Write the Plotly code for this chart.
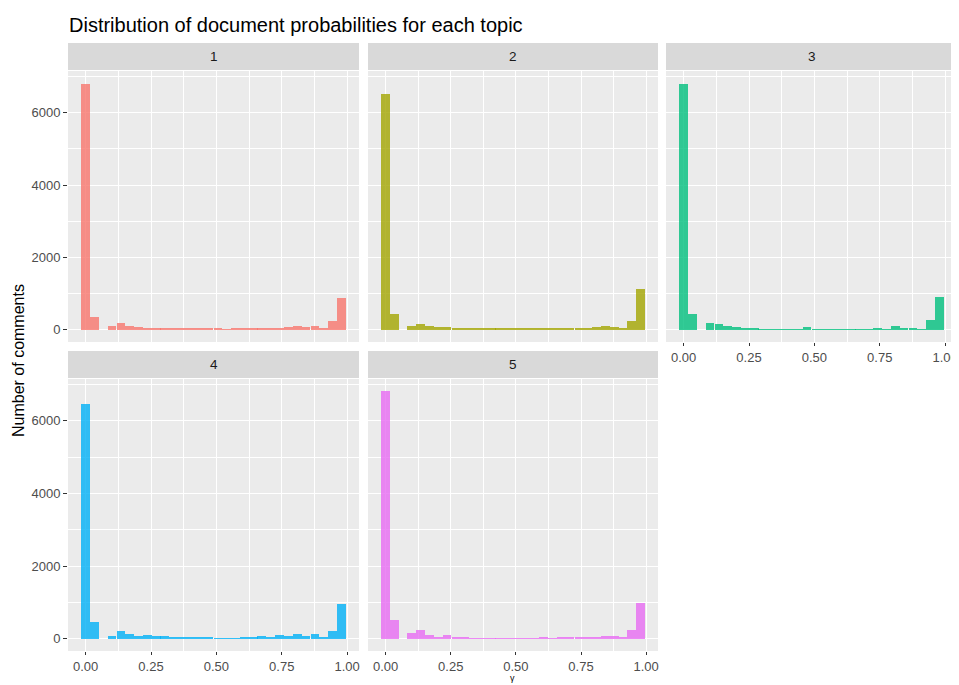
import plotly.graph_objects as go

# ---------------- data ----------------
topics = ["1", "2", "3", "4", "5"]

gamma_bins = [0.000, 0.034, 0.067, 0.101, 0.135, 0.169, 0.202, 0.236, 0.270, 0.303,
              0.337, 0.371, 0.405, 0.438, 0.472, 0.506, 0.540, 0.573, 0.607, 0.641,
              0.674, 0.708, 0.742, 0.776, 0.809, 0.843, 0.877, 0.911, 0.944, 0.978]

counts_topic1 = [6800, 358, 0, 113, 179, 113, 85, 57, 57, 57,
                 19, 19, 19, 19, 19, 19, 3, 28, 28, 47,
                 47, 47, 47, 75, 113, 75, 113, 19, 245, 868]
counts_topic2 = [6524, 430, 0, 105, 170, 105, 67, 67, 48, 48,
                 48, 19, 19, 19, 19, 48, 19, 19, 19, 19,
                 48, 48, 48, 48, 76, 114, 76, 19, 240, 1120]
counts_topic3 = [6800, 420, 0, 190, 155, 106, 67, 38, 38, 10,
                 10, 10, 10, 10, 67, 10, 10, 10, 10, 10,
                 10, 10, 38, 10, 106, 38, 38, 10, 270, 900]
counts_topic4 = [6475, 450, 0, 75, 205, 140, 75, 112, 75, 75,
                 47, 47, 19, 19, 47, 10, 10, 10, 37, 37,
                 75, 47, 112, 75, 140, 75, 140, 37, 205, 955]
counts_topic5 = [6811, 514, 0, 159, 234, 112, 37, 112, 47, 47,
                 10, 10, 10, 10, 10, 10, 10, 10, 37, 10,
                 47, 47, 47, 47, 47, 75, 75, 19, 234, 980]

x_tick_vals = [0.0, 0.25, 0.5, 0.75, 1.0]
x_tick_text = ["0.00", "0.25", "0.50", "0.75", "1.00"]
y_tick_vals = [0, 2000, 4000, 6000]
y_tick_text = ["0", "2000", "4000", "6000"]

# ---------------- styling / layout ----------------
OFF = 8                      # page body margin of the browser
W, H = 959 - OFF, 685 - OFF  # figure size so it fits the window
colors = ["#F8766D", "#A3A500", "#00BF7D", "#00B0F6", "#E76BF3"]
bar_width = 0.0337
x_range = [-0.0674, 1.0454]
y_max = max(max(c) for c in [counts_topic1, counts_topic2, counts_topic3, counts_topic4, counts_topic5])
y_range = [-0.05 * y_max, 1.05 * y_max]

# positions in window pixels (as in the reference)
col_px = [(68, 359), (368, 658), (666, 957)]
row_px = [(71, 342), (379, 651)]        # plot area top/bottom
strip_h = 27
positions = [(0, 0), (0, 1), (0, 2), (1, 0), (1, 1)]  # (row, col)


def px_x(v):
    return (v - OFF) / W


def px_y(v):
    return 1 - (v - OFF) / H


FONT = "Liberation Sans, Arial, sans-serif"
TICK_SIZE = 13
all_counts = [counts_topic1, counts_topic2, counts_topic3, counts_topic4, counts_topic5]

fig = go.Figure()
shapes = []
annotations = []

for i, (topic, counts) in enumerate(zip(topics, all_counts)):
    r, c = positions[i]
    n = i + 1
    xa = "x" if n == 1 else f"x{n}"
    ya = "y" if n == 1 else f"y{n}"
    fig.add_trace(go.Bar(
        x=gamma_bins, y=counts, width=bar_width,
        marker=dict(color=colors[i], opacity=0.8, line=dict(width=0)),
        xaxis=xa, yaxis=ya, showlegend=False, name=topic,
    ))
    x0, x1 = col_px[c]
    t, b = row_px[r]
    xdom = [px_x(x0), px_x(x1)]
    ydom = [px_y(b), px_y(t)]

    show_x = (i in (2, 3, 4))
    show_y = (c == 0)

    xkey = "xaxis" if n == 1 else f"xaxis{n}"
    ykey = "yaxis" if n == 1 else f"yaxis{n}"
    fig.update_layout(**{
        xkey: dict(
            domain=xdom, anchor=ya, range=x_range, showline=False, zeroline=False,
            tickvals=x_tick_vals, ticktext=x_tick_text,
            showticklabels=show_x, ticks="outside" if show_x else "",
            ticklen=3, tickwidth=1, tickcolor="#333333",
            tickfont=dict(family=FONT, size=TICK_SIZE, color="#4D4D4D"),
            showgrid=True, gridcolor="white", gridwidth=1.1,
            minor=dict(tickvals=[0.125, 0.375, 0.625, 0.875], showgrid=True,
                       gridcolor="white", gridwidth=0.55, ticks=""),
            fixedrange=True,
        ),
        ykey: dict(
            domain=ydom, anchor=xa, range=y_range, showline=False, zeroline=False,
            tickvals=y_tick_vals, ticktext=y_tick_text,
            showticklabels=show_y, ticks="outside" if show_y else "",
            ticklen=4, tickwidth=1, tickcolor="#333333",
            tickfont=dict(family=FONT, size=TICK_SIZE, color="#4D4D4D"),
            showgrid=True, gridcolor="white", gridwidth=1.1,
            minor=dict(tickvals=[1000, 3000, 5000, 7000], showgrid=True,
                       gridcolor="white", gridwidth=0.55, ticks=""),
            fixedrange=True,
        ),
    })
    # strip
    st_top = t - strip_h - 1
    st_bot = t - 1
    shapes.append(dict(type="rect", xref="paper", yref="paper",
                       x0=px_x(x0), x1=px_x(x1), y0=px_y(st_bot), y1=px_y(st_top),
                       fillcolor="#D9D9D9", line=dict(width=0), layer="below"))
    annotations.append(dict(text=topic, xref="paper", yref="paper",
                            x=px_x((x0 + x1) / 2), y=px_y((st_top + st_bot) / 2),
                            xanchor="center", yanchor="middle", showarrow=False,
                            font=dict(family=FONT, size=13.5, color="#1A1A1A")))

# title
annotations.append(dict(text="Distribution of document probabilities for each topic",
                        xref="paper", yref="paper", x=px_x(67), y=px_y(25),
                        xanchor="left", yanchor="middle", showarrow=False,
                        font=dict(family=FONT, size=20, color="black")))
# axis titles
annotations.append(dict(text="Number of comments", xref="paper", yref="paper",
                        x=px_x(18), y=px_y(361), textangle=-90,
                        xanchor="center", yanchor="middle", showarrow=False,
                        font=dict(family=FONT, size=16, color="black")))
annotations.append(dict(text="γ", xref="paper", yref="paper",
                        x=px_x(512), y=px_y(685),
                        xanchor="center", yanchor="bottom", showarrow=False,
                        font=dict(family=FONT, size=9, color="black")))

fig.update_layout(
    width=W, height=H, margin=dict(l=0, r=0, t=0, b=0),
    paper_bgcolor="white", plot_bgcolor="#EBEBEB",
    bargap=0, shapes=shapes, annotations=annotations,
    font=dict(family=FONT),
)

fig.write_html("out.html")
